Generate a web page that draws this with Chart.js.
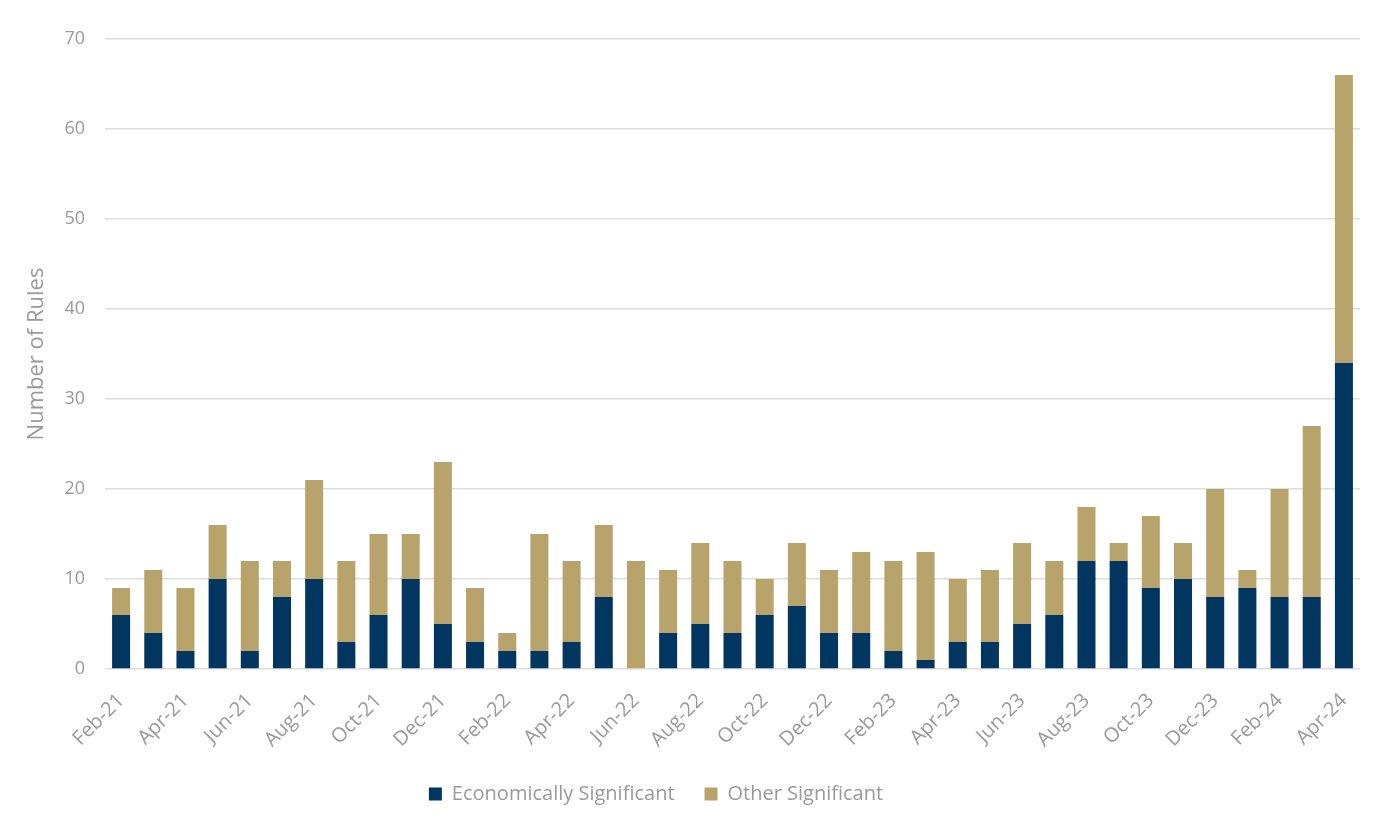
<!DOCTYPE html>
<html>
<head>
<meta charset="utf-8">
<title>Number of Rules</title>
<script src="https://cdn.jsdelivr.net/npm/chart.js@4.4.0/dist/chart.umd.min.js"></script>
<style>
  html, body { margin: 0; padding: 0; background: #ffffff; }
  #wrap { width: 1385px; height: 834px; }
</style>
</head>
<body>
<div id="wrap"><canvas id="rulesChart" width="1385" height="834"></canvas></div>
<script>
const months = [
    "Feb-21", "Mar-21", "Apr-21", "May-21", "Jun-21", "Jul-21", "Aug-21", "Sep-21", "Oct-21", "Nov-21", "Dec-21",
    "Jan-22", "Feb-22", "Mar-22", "Apr-22", "May-22", "Jun-22", "Jul-22", "Aug-22", "Sep-22", "Oct-22", "Nov-22", "Dec-22",
    "Jan-23", "Feb-23", "Mar-23", "Apr-23", "May-23", "Jun-23", "Jul-23", "Aug-23", "Sep-23", "Oct-23", "Nov-23", "Dec-23",
    "Jan-24", "Feb-24", "Mar-24", "Apr-24"
];

const economicallySignificant = [
    6, 4, 2, 10, 2, 8, 10, 3, 6, 10, 5,
    3, 2, 2, 3, 8, 0, 4, 5, 4, 6, 7, 4,
    4, 2, 1, 3, 3, 5, 6, 12, 12, 9, 10, 8,
    9, 8, 8, 34
];

const otherSignificant = [
    3, 7, 7, 6, 10, 4, 11, 9, 9, 5, 18,
    6, 2, 13, 9, 8, 12, 7, 9, 8, 4, 7, 7,
    9, 10, 12, 7, 8, 9, 6, 6, 2, 8, 4, 12,
    2, 12, 19, 32
];

const yTicks = [0, 10, 20, 30, 40, 50, 60, 70];

const textColor = "#9a9a9a";
const fontFamily = "'Open Sans', Lato, sans-serif";

// legend in the original sits a little left of the page centre
const legendShift = {
    id: "legendShift",
    afterLayout(chart) {
        chart.legend.left -= 24;
        chart.legend.right -= 24;
    },
};

const ctx = document.getElementById("rulesChart").getContext("2d");

new Chart(ctx, {
    type: "bar",
    data: {
        labels: months,
        datasets: [
            {
                label: "Economically Significant",
                data: economicallySignificant,
                backgroundColor: "#003660",
                barPercentage: 0.56,
                categoryPercentage: 1.0,
            },
            {
                label: "Other Significant",
                data: otherSignificant,
                backgroundColor: "#b8a46b",
                barPercentage: 0.56,
                categoryPercentage: 1.0,
            },
        ],
    },
    plugins: [legendShift],
    options: {
        responsive: false,
        animation: false,
        layout: {
            padding: { top: 39, right: 25, bottom: 20, left: 0 },
        },
        plugins: {
            tooltip: { enabled: false },
            legend: {
                position: "bottom",
                labels: {
                    color: textColor,
                    font: { family: fontFamily, size: 20 },
                    boxWidth: 13,
                    boxHeight: 13,
                    padding: 30,
                },
            },
        },
        scales: {
            x: {
                stacked: true,
                grid: { display: false, drawTicks: false },
                border: { display: false },
                ticks: {
                    color: textColor,
                    font: { family: fontFamily, size: 20 },
                    autoSkip: false,
                    maxRotation: 45,
                    minRotation: 45,
                    padding: 20,
                    callback: function (value, index) {
                        return index % 2 === 0 ? months[index] : "";
                    },
                },
                afterFit: function (axis) {
                    axis.height = 85;
                },
            },
            y: {
                stacked: true,
                min: 0,
                max: 70,
                afterBuildTicks: function (axis) {
                    axis.ticks = yTicks.map((v) => ({ value: v }));
                },
                grid: { color: "#dedede", lineWidth: 1.5, drawTicks: false },
                border: { display: false },
                ticks: {
                    color: textColor,
                    font: { family: fontFamily, size: 18 },
                    padding: 20,
                },
                title: {
                    display: true,
                    text: "Number of Rules",
                    color: textColor,
                    font: { family: fontFamily, size: 22 },
                    padding: { top: 24, bottom: 0 },
                },
                afterFit: function (axis) {
                    axis.width = 105;
                },
            },
        },
    },
});
</script>
</body>
</html>
